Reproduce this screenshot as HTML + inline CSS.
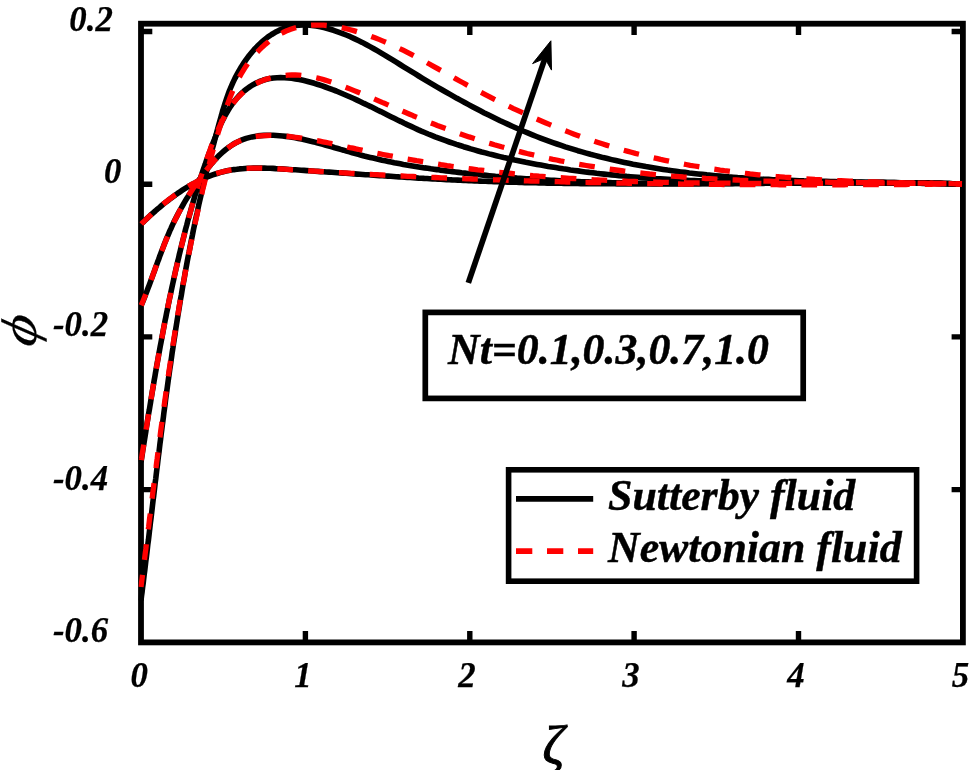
<!DOCTYPE html>
<html><head><meta charset="utf-8"><title>Concentration profile</title>
<style>
html,body{margin:0;padding:0;background:#fff;}
body{width:969px;height:770px;overflow:hidden;}
svg{display:block;}
text{font-family:"Liberation Serif",serif;font-style:italic;font-weight:bold;fill:#000;}
.tk{font-size:34.8px;}
.big{font-size:43.85px;}
.sym{font-weight:normal;}
.big{stroke:#000;stroke-width:0.45px;}
.tk{stroke:#000;stroke-width:0.25px;}
</style></head><body>
<svg width="969" height="770" viewBox="0 0 969 770">
<rect width="969" height="770" fill="#fff"/>
<g stroke="#000" stroke-width="5.8" fill="none" stroke-linecap="butt">
<rect x="141.0" y="23.7" width="821.9" height="618.7"/>
<path d="M305.4,642.4 v-11.3 M305.4,23.7 v11.3 M469.8,642.4 v-11.3 M469.8,23.7 v11.3 M634.1,642.4 v-11.3 M634.1,23.7 v11.3 M798.5,642.4 v-11.3 M798.5,23.7 v11.3 M141.0,31.5 h11.3 M962.9,31.5 h-11.3 M141.0,184.2 h11.3 M962.9,184.2 h-11.3 M141.0,336.9 h11.3 M962.9,336.9 h-11.3 M141.0,489.6 h11.3 M962.9,489.6 h-11.3 " stroke-width="5.4"/>
</g>
<defs><clipPath id="cp"><rect x="138.4" y="20.8" width="827.4" height="624.5"/></clipPath></defs>
<g fill="none" stroke="#000" stroke-width="5.6" stroke-linejoin="round" clip-path="url(#cp)">
<path d="M141.3,224.0 L143.2,222.1 L145.1,220.3 L147.1,218.4 L149.1,216.5 L151.1,214.7 L153.2,212.8 L155.3,211.0 L157.4,209.1 L159.6,207.3 L161.7,205.5 L163.9,203.7 L166.1,201.9 L168.4,200.2 L170.7,198.4 L173.0,196.7 L175.3,195.1 L177.6,193.4 L180.0,191.8 L182.4,190.2 L184.8,188.7 L187.3,187.2 L189.7,185.7 L192.2,184.3 L194.7,183.0 L197.2,181.6 L199.7,180.4 L202.3,179.2 L204.8,178.0 L207.4,176.9 L210.0,175.9 L212.6,174.9 L215.3,174.0 L217.9,173.2 L220.6,172.4 L223.2,171.7 L225.9,171.1 L228.6,170.5 L231.3,170.1 L234.0,169.6 L236.8,169.3 L239.5,168.9 L242.3,168.7 L245.0,168.5 L247.8,168.3 L250.6,168.2 L253.3,168.1 L256.1,168.1 L258.9,168.1 L261.7,168.1 L264.5,168.1 L267.3,168.2 L270.1,168.3 L272.9,168.4 L275.7,168.6 L278.6,168.7 L281.4,168.9 L284.2,169.1 L287.0,169.3 L289.8,169.5 L292.6,169.7 L295.4,169.8 L298.3,170.0 L301.1,170.2 L303.9,170.4 L306.7,170.6 L309.5,170.8 L312.3,171.0 L315.1,171.2 L317.9,171.4 L320.7,171.6 L323.5,171.8 L326.3,172.0 L329.1,172.1 L331.9,172.3 L334.7,172.5 L337.6,172.7 L340.4,172.9 L343.2,173.1 L346.0,173.3 L348.8,173.5 L351.5,173.7 L354.3,173.9 L357.1,174.1 L359.9,174.3 L362.7,174.5 L365.5,174.7 L368.3,174.8 L371.1,175.0 L373.9,175.2 L376.7,175.4 L379.5,175.6 L382.3,175.8 L385.1,176.0 L387.9,176.1 L390.7,176.3 L393.5,176.5 L396.3,176.7 L399.1,176.9 L401.8,177.0 L404.6,177.2 L407.4,177.4 L410.2,177.5 L413.0,177.7 L415.8,177.9 L418.6,178.1 L421.4,178.2 L424.2,178.4 L427.0,178.5 L429.8,178.7 L432.6,178.9 L435.3,179.0 L438.1,179.2 L440.9,179.3 L443.7,179.5 L446.5,179.6 L449.3,179.7 L452.1,179.9 L454.9,180.0 L457.7,180.1 L460.5,180.3 L463.3,180.4 L466.1,180.5 L468.8,180.7 L471.6,180.8 L474.4,180.9 L477.2,181.0 L480.0,181.1 L482.8,181.2 L485.6,181.3 L488.4,181.4 L491.2,181.5 L494.0,181.6 L496.8,181.7 L499.6,181.8 L502.4,181.9 L505.2,182.0 L508.0,182.1 L510.8,182.2 L513.6,182.3 L516.4,182.3 L519.2,182.4 L522.0,182.5 L524.8,182.6 L527.6,182.6 L530.4,182.7 L533.2,182.8 L536.0,182.8 L538.8,182.9 L541.6,183.0 L544.4,183.0 L547.2,183.1 L550.0,183.1 L552.8,183.2 L555.6,183.2 L558.4,183.3 L561.2,183.3 L564.0,183.4 L566.8,183.4 L569.6,183.4 L572.4,183.5 L575.2,183.5 L578.0,183.5 L580.8,183.6 L583.6,183.6 L586.4,183.6 L589.2,183.7 L592.0,183.7 L594.8,183.7 L597.6,183.7 L600.4,183.8 L603.2,183.8 L606.0,183.8 L608.8,183.8 L611.6,183.8 L614.4,183.8 L617.2,183.9 L620.0,183.9 L622.8,183.9 L625.6,183.9 L628.4,183.9 L631.3,183.9 L634.1,183.9 L636.9,183.9 L639.7,183.9 L642.5,183.9 L645.3,183.9 L648.1,183.9 L650.9,183.9 L653.7,183.9 L656.5,183.9 L659.3,183.9 L662.1,183.9 L664.9,183.9 L667.7,183.9 L670.5,183.9 L673.3,183.9 L676.1,183.9 L678.9,183.9 L681.8,183.8 L684.6,183.8 L687.4,183.8 L690.2,183.8 L693.0,183.8 L695.8,183.8 L698.6,183.8 L701.4,183.8 L704.2,183.7 L707.0,183.7 L709.8,183.7 L712.6,183.7 L715.4,183.7 L718.2,183.7 L721.0,183.6 L723.8,183.6 L726.7,183.6 L729.5,183.6 L732.3,183.6 L735.1,183.5 L737.9,183.5 L740.7,183.5 L743.5,183.5 L746.3,183.5 L749.1,183.5 L751.9,183.4 L754.7,183.4 L757.5,183.4 L760.3,183.4 L763.1,183.4 L765.9,183.3 L768.7,183.3 L771.5,183.3 L774.4,183.3 L777.2,183.3 L780.0,183.2 L782.8,183.2 L785.6,183.2 L788.4,183.2 L791.2,183.2 L794.0,183.2 L796.8,183.2 L799.6,183.1 L802.4,183.1 L805.2,183.1 L808.0,183.1 L810.8,183.1 L813.6,183.1 L816.4,183.1 L819.2,183.0 L822.0,183.0 L824.8,183.0 L827.6,183.0 L830.4,183.0 L833.2,183.0 L836.0,183.0 L838.9,183.0 L841.7,183.0 L844.5,183.0 L847.3,183.0 L850.1,183.0 L852.9,183.0 L855.7,183.0 L858.5,183.0 L861.3,183.0 L864.1,183.0 L866.9,183.0 L869.7,183.0 L872.5,183.0 L875.3,183.0 L878.1,183.0 L880.9,183.0 L883.7,183.0 L886.5,183.1 L889.3,183.1 L892.1,183.1 L894.9,183.1 L897.7,183.1 L900.5,183.1 L903.3,183.2 L906.1,183.2 L908.9,183.2 L911.7,183.2 L914.5,183.3 L917.3,183.3 L920.1,183.3 L922.9,183.4 L925.7,183.4 L928.5,183.4 L931.3,183.5 L934.0,183.5 L936.8,183.6 L939.6,183.6 L942.4,183.6 L945.2,183.7 L948.0,183.7 L950.8,183.8 L953.6,183.8 L956.4,183.9 L959.2,184.0 L962.0,184.0"/>
<path d="M141.2,305.4 L142.4,302.6 L143.6,299.7 L144.7,296.9 L145.8,294.0 L146.9,291.2 L148.0,288.3 L149.1,285.4 L150.2,282.5 L151.2,279.7 L152.3,276.8 L153.3,273.9 L154.4,271.0 L155.4,268.1 L156.5,265.2 L157.5,262.3 L158.6,259.5 L159.6,256.6 L160.7,253.7 L161.8,250.8 L162.9,248.0 L164.0,245.1 L165.1,242.3 L166.2,239.4 L167.4,236.6 L168.6,233.8 L169.8,230.9 L171.1,228.2 L172.3,225.4 L173.6,222.6 L175.0,219.8 L176.4,217.1 L177.8,214.4 L179.2,211.7 L180.7,209.0 L182.2,206.3 L183.7,203.6 L185.3,200.9 L186.9,198.3 L188.6,195.7 L190.2,193.1 L191.9,190.5 L193.6,187.9 L195.4,185.3 L197.2,182.7 L199.0,180.2 L200.8,177.7 L202.6,175.1 L204.5,172.6 L206.4,170.1 L208.4,167.6 L210.3,165.2 L212.3,162.8 L214.4,160.4 L216.5,158.2 L218.6,155.9 L220.9,153.8 L223.1,151.7 L225.5,149.8 L227.9,147.9 L230.3,146.2 L232.8,144.5 L235.4,143.0 L238.0,141.7 L240.7,140.4 L243.4,139.4 L246.2,138.4 L249.1,137.6 L252.0,136.9 L254.9,136.4 L257.9,135.9 L260.9,135.6 L263.9,135.4 L267.0,135.3 L270.1,135.2 L273.2,135.3 L276.4,135.5 L279.5,135.7 L282.7,136.0 L285.8,136.4 L289.0,136.8 L292.1,137.3 L295.3,137.8 L298.4,138.4 L301.6,139.1 L304.7,139.8 L307.8,140.5 L310.8,141.2 L313.9,141.9 L316.9,142.7 L319.9,143.5 L322.9,144.3 L325.9,145.2 L328.9,146.0 L331.8,146.8 L334.8,147.7 L337.7,148.5 L340.7,149.4 L343.6,150.2 L346.5,151.1 L349.5,151.9 L352.4,152.8 L355.4,153.6 L358.3,154.4 L361.3,155.2 L364.2,156.0 L367.2,156.7 L370.2,157.4 L373.2,158.1 L376.1,158.8 L379.1,159.5 L382.1,160.2 L385.2,160.8 L388.2,161.4 L391.2,162.1 L394.2,162.7 L397.3,163.2 L400.3,163.8 L403.3,164.4 L406.4,164.9 L409.4,165.4 L412.5,165.9 L415.5,166.4 L418.6,166.9 L421.7,167.4 L424.7,167.9 L427.8,168.3 L430.9,168.8 L433.9,169.2 L437.0,169.6 L440.1,170.1 L443.1,170.5 L446.2,170.9 L449.3,171.3 L452.4,171.6 L455.4,172.0 L458.5,172.4 L461.6,172.8 L464.7,173.1 L467.7,173.5 L470.8,173.8 L473.9,174.1 L477.0,174.5 L480.0,174.8 L483.1,175.1 L486.2,175.4 L489.3,175.7 L492.4,176.0 L495.4,176.3 L498.5,176.5 L501.6,176.8 L504.7,177.1 L507.8,177.3 L510.8,177.6 L513.9,177.8 L517.0,178.1 L520.1,178.3 L523.2,178.5 L526.2,178.7 L529.3,178.9 L532.4,179.1 L535.5,179.3 L538.6,179.5 L541.7,179.7 L544.7,179.9 L547.8,180.1 L550.9,180.3 L554.0,180.4 L557.1,180.6 L560.2,180.8 L563.3,180.9 L566.3,181.1 L569.4,181.2 L572.5,181.3 L575.6,181.5 L578.7,181.6 L581.8,181.7 L584.9,181.8 L588.0,181.9 L591.0,182.0 L594.1,182.2 L597.2,182.3 L600.3,182.3 L603.4,182.4 L606.5,182.5 L609.6,182.6 L612.7,182.7 L615.8,182.8 L618.8,182.8 L621.9,182.9 L625.0,183.0 L628.1,183.0 L631.2,183.1 L634.3,183.1 L637.4,183.2 L640.5,183.2 L643.6,183.3 L646.7,183.3 L649.7,183.3 L652.8,183.4 L655.9,183.4 L659.0,183.4 L662.1,183.5 L665.2,183.5 L668.3,183.5 L671.4,183.5 L674.5,183.5 L677.6,183.5 L680.7,183.5 L683.8,183.6 L686.9,183.6 L689.9,183.6 L693.0,183.6 L696.1,183.6 L699.2,183.6 L702.3,183.5 L705.4,183.5 L708.5,183.5 L711.6,183.5 L714.7,183.5 L717.8,183.5 L720.9,183.5 L724.0,183.5 L727.1,183.4 L730.2,183.4 L733.3,183.4 L736.3,183.4 L739.4,183.4 L742.5,183.3 L745.6,183.3 L748.7,183.3 L751.8,183.3 L754.9,183.2 L758.0,183.2 L761.1,183.2 L764.2,183.2 L767.3,183.1 L770.4,183.1 L773.5,183.1 L776.6,183.0 L779.7,183.0 L782.8,183.0 L785.8,183.0 L788.9,182.9 L792.0,182.9 L795.1,182.9 L798.2,182.8 L801.3,182.8 L804.4,182.8 L807.5,182.8 L810.6,182.7 L813.7,182.7 L816.8,182.7 L819.9,182.7 L823.0,182.7 L826.1,182.6 L829.2,182.6 L832.2,182.6 L835.3,182.6 L838.4,182.6 L841.5,182.6 L844.6,182.6 L847.7,182.5 L850.8,182.5 L853.9,182.5 L857.0,182.5 L860.1,182.5 L863.2,182.5 L866.3,182.5 L869.3,182.5 L872.4,182.5 L875.5,182.5 L878.6,182.6 L881.7,182.6 L884.8,182.6 L887.9,182.6 L891.0,182.6 L894.1,182.6 L897.2,182.7 L900.3,182.7 L903.3,182.7 L906.4,182.8 L909.5,182.8 L912.6,182.8 L915.7,182.9 L918.8,182.9 L921.9,183.0 L925.0,183.0 L928.1,183.1 L931.1,183.2 L934.2,183.2 L937.3,183.3 L940.4,183.4 L943.5,183.5 L946.6,183.5 L949.7,183.6 L952.7,183.7 L955.8,183.8 L958.9,183.9 L962.0,184.0"/>
<path d="M141.0,462.0 L141.6,458.3 L142.2,454.6 L142.7,450.9 L143.3,447.2 L143.9,443.5 L144.5,439.8 L145.1,436.1 L145.7,432.4 L146.2,428.7 L146.8,425.0 L147.4,421.3 L148.0,417.6 L148.6,413.8 L149.3,410.1 L149.9,406.4 L150.5,402.7 L151.1,398.9 L151.7,395.2 L152.3,391.5 L153.0,387.7 L153.6,384.0 L154.2,380.3 L154.9,376.5 L155.5,372.8 L156.2,369.1 L156.8,365.3 L157.5,361.6 L158.2,357.8 L158.8,354.1 L159.5,350.4 L160.2,346.6 L160.9,342.9 L161.6,339.2 L162.3,335.5 L163.0,331.7 L163.7,328.0 L164.4,324.3 L165.1,320.6 L165.9,316.8 L166.6,313.1 L167.4,309.4 L168.1,305.7 L168.9,302.0 L169.6,298.3 L170.4,294.6 L171.2,290.9 L172.0,287.2 L172.8,283.5 L173.6,279.8 L174.4,276.2 L175.2,272.5 L176.0,268.8 L176.9,265.2 L177.7,261.5 L178.6,257.8 L179.4,254.2 L180.3,250.6 L181.2,246.9 L182.1,243.3 L183.0,239.7 L183.9,236.1 L184.8,232.4 L185.7,228.8 L186.7,225.2 L187.6,221.6 L188.6,218.1 L189.6,214.5 L190.6,210.9 L191.6,207.3 L192.6,203.7 L193.7,200.1 L194.7,196.6 L195.8,193.0 L196.9,189.4 L198.0,185.8 L199.2,182.2 L200.3,178.7 L201.5,175.1 L202.7,171.5 L203.9,167.9 L205.2,164.3 L206.4,160.7 L207.7,157.1 L209.0,153.5 L210.4,149.9 L211.7,146.3 L213.1,142.7 L214.6,139.0 L216.0,135.4 L217.5,131.8 L219.0,128.2 L220.6,124.6 L222.3,121.1 L224.0,117.7 L225.8,114.3 L227.7,111.0 L229.7,107.8 L231.8,104.7 L234.0,101.7 L236.4,98.8 L238.8,96.0 L241.4,93.4 L244.1,91.0 L247.0,88.7 L250.0,86.6 L253.1,84.7 L256.2,83.0 L259.5,81.5 L262.9,80.3 L266.3,79.3 L269.8,78.6 L273.4,78.0 L277.0,77.7 L280.6,77.6 L284.3,77.7 L288.0,77.9 L291.7,78.3 L295.5,78.9 L299.3,79.5 L303.0,80.3 L306.8,81.2 L310.6,82.3 L314.3,83.3 L318.0,84.5 L321.7,85.7 L325.4,87.0 L329.0,88.3 L332.6,89.7 L336.2,91.0 L339.7,92.5 L343.2,94.0 L346.7,95.5 L350.2,97.0 L353.7,98.5 L357.1,100.1 L360.5,101.7 L363.9,103.4 L367.3,105.0 L370.7,106.6 L374.1,108.3 L377.4,110.0 L380.8,111.6 L384.2,113.3 L387.5,115.0 L390.9,116.7 L394.2,118.3 L397.6,120.0 L401.0,121.6 L404.3,123.3 L407.7,124.9 L411.1,126.4 L414.5,128.0 L417.9,129.6 L421.3,131.1 L424.7,132.5 L428.2,134.0 L431.7,135.4 L435.2,136.8 L438.7,138.1 L442.2,139.4 L445.7,140.7 L449.3,142.0 L452.8,143.2 L456.4,144.4 L460.0,145.5 L463.6,146.7 L467.2,147.8 L470.8,148.9 L474.4,149.9 L478.1,151.0 L481.7,152.0 L485.4,152.9 L489.0,153.9 L492.7,154.8 L496.4,155.7 L500.0,156.6 L503.7,157.5 L507.4,158.3 L511.1,159.2 L514.8,160.0 L518.5,160.7 L522.2,161.5 L525.9,162.3 L529.6,163.0 L533.3,163.7 L537.0,164.4 L540.8,165.1 L544.5,165.7 L548.2,166.4 L551.9,167.0 L555.6,167.6 L559.3,168.2 L563.1,168.8 L566.8,169.3 L570.5,169.9 L574.2,170.4 L578.0,170.9 L581.7,171.4 L585.4,171.9 L589.2,172.4 L592.9,172.8 L596.6,173.3 L600.4,173.7 L604.1,174.1 L607.9,174.5 L611.6,174.9 L615.4,175.3 L619.1,175.7 L622.9,176.0 L626.6,176.4 L630.4,176.7 L634.1,177.0 L637.9,177.3 L641.6,177.6 L645.4,177.9 L649.1,178.2 L652.9,178.4 L656.6,178.7 L660.4,178.9 L664.2,179.1 L667.9,179.3 L671.7,179.6 L675.4,179.8 L679.2,179.9 L683.0,180.1 L686.7,180.3 L690.5,180.5 L694.3,180.6 L698.0,180.8 L701.8,180.9 L705.6,181.0 L709.3,181.2 L713.1,181.3 L716.9,181.4 L720.6,181.5 L724.4,181.6 L728.2,181.7 L732.0,181.8 L735.7,181.9 L739.5,181.9 L743.3,182.0 L747.1,182.1 L750.8,182.1 L754.6,182.2 L758.4,182.2 L762.2,182.3 L765.9,182.3 L769.7,182.3 L773.5,182.4 L777.3,182.4 L781.0,182.4 L784.8,182.4 L788.6,182.5 L792.4,182.5 L796.2,182.5 L799.9,182.5 L803.7,182.5 L807.5,182.5 L811.3,182.5 L815.0,182.5 L818.8,182.5 L822.6,182.5 L826.4,182.5 L830.1,182.5 L833.9,182.5 L837.7,182.5 L841.5,182.5 L845.3,182.5 L849.0,182.5 L852.8,182.6 L856.6,182.6 L860.4,182.6 L864.1,182.6 L867.9,182.6 L871.7,182.6 L875.4,182.6 L879.2,182.6 L883.0,182.6 L886.8,182.7 L890.5,182.7 L894.3,182.7 L898.1,182.7 L901.8,182.8 L905.6,182.8 L909.4,182.9 L913.1,182.9 L916.9,183.0 L920.7,183.0 L924.4,183.1 L928.2,183.1 L931.9,183.2 L935.7,183.3 L939.5,183.4 L943.2,183.5 L947.0,183.6 L950.7,183.7 L954.5,183.8 L958.2,183.9 L962.0,184.0"/>
<path d="M141.0,600.5 L141.5,596.1 L142.1,591.8 L142.6,587.4 L143.2,583.1 L143.7,578.7 L144.2,574.4 L144.8,570.0 L145.3,565.6 L145.8,561.3 L146.4,556.9 L146.9,552.6 L147.4,548.2 L147.9,543.8 L148.5,539.5 L149.0,535.1 L149.5,530.7 L150.0,526.4 L150.5,522.0 L151.1,517.6 L151.6,513.3 L152.1,508.9 L152.6,504.5 L153.1,500.2 L153.7,495.8 L154.2,491.4 L154.7,487.1 L155.2,482.7 L155.8,478.3 L156.3,473.9 L156.8,469.6 L157.4,465.2 L157.9,460.8 L158.4,456.5 L159.0,452.1 L159.5,447.7 L160.0,443.4 L160.6,439.0 L161.1,434.6 L161.7,430.2 L162.2,425.9 L162.8,421.5 L163.4,417.1 L163.9,412.8 L164.5,408.4 L165.1,404.0 L165.6,399.7 L166.2,395.3 L166.8,391.0 L167.4,386.6 L168.0,382.2 L168.6,377.9 L169.2,373.5 L169.8,369.2 L170.5,364.8 L171.1,360.4 L171.7,356.1 L172.3,351.7 L173.0,347.4 L173.6,343.0 L174.3,338.7 L175.0,334.3 L175.6,330.0 L176.3,325.6 L177.0,321.3 L177.7,316.9 L178.4,312.6 L179.1,308.3 L179.8,303.9 L180.5,299.6 L181.3,295.3 L182.0,290.9 L182.7,286.6 L183.5,282.3 L184.3,277.9 L185.0,273.6 L185.8,269.3 L186.6,265.0 L187.4,260.6 L188.2,256.3 L189.1,252.0 L189.9,247.7 L190.7,243.4 L191.6,239.1 L192.5,234.8 L193.3,230.5 L194.2,226.2 L195.1,221.9 L196.0,217.6 L197.0,213.3 L197.9,209.0 L198.8,204.7 L199.8,200.4 L200.8,196.1 L201.7,191.9 L202.7,187.6 L203.7,183.3 L204.8,179.0 L205.8,174.8 L206.8,170.5 L207.9,166.2 L209.0,162.0 L210.1,157.7 L211.1,153.5 L212.2,149.2 L213.4,145.0 L214.5,140.8 L215.6,136.6 L216.7,132.4 L217.9,128.1 L219.0,124.0 L220.2,119.8 L221.4,115.6 L222.5,111.4 L223.8,107.3 L225.1,103.1 L226.5,99.0 L227.9,94.9 L229.4,90.8 L231.1,86.7 L232.9,82.6 L234.8,78.6 L236.9,74.6 L239.1,70.6 L241.4,66.7 L243.9,62.9 L246.5,59.1 L249.2,55.5 L252.1,52.0 L255.0,48.7 L258.1,45.5 L261.3,42.4 L264.6,39.6 L268.0,36.9 L271.6,34.5 L275.2,32.3 L278.9,30.4 L282.7,28.8 L286.6,27.4 L290.6,26.3 L294.7,25.5 L298.9,25.1 L303.1,24.9 L307.4,25.0 L311.8,25.4 L316.1,26.0 L320.5,26.8 L324.8,27.8 L329.2,29.0 L333.5,30.3 L337.8,31.8 L342.0,33.3 L346.2,35.0 L350.3,36.7 L354.3,38.6 L358.3,40.5 L362.2,42.4 L366.1,44.5 L370.0,46.6 L373.8,48.7 L377.6,50.9 L381.3,53.1 L385.1,55.3 L388.8,57.6 L392.6,59.9 L396.3,62.2 L400.0,64.5 L403.7,66.8 L407.5,69.1 L411.2,71.4 L415.0,73.7 L418.7,76.0 L422.5,78.3 L426.3,80.6 L430.1,82.8 L433.9,85.1 L437.7,87.3 L441.5,89.5 L445.4,91.7 L449.2,93.9 L453.1,96.1 L456.9,98.3 L460.8,100.4 L464.7,102.5 L468.6,104.6 L472.5,106.7 L476.4,108.8 L480.3,110.8 L484.3,112.9 L488.2,114.8 L492.2,116.8 L496.2,118.7 L500.2,120.7 L504.1,122.5 L508.2,124.4 L512.2,126.2 L516.2,128.0 L520.2,129.8 L524.3,131.5 L528.3,133.2 L532.4,134.9 L536.5,136.5 L540.6,138.1 L544.7,139.6 L548.8,141.1 L552.9,142.6 L557.0,144.0 L561.2,145.4 L565.3,146.8 L569.5,148.1 L573.7,149.4 L577.8,150.7 L582.0,151.9 L586.2,153.1 L590.4,154.3 L594.7,155.4 L598.9,156.5 L603.1,157.6 L607.4,158.6 L611.6,159.6 L615.9,160.6 L620.1,161.5 L624.4,162.4 L628.7,163.3 L633.0,164.2 L637.3,165.0 L641.6,165.8 L645.9,166.6 L650.2,167.3 L654.5,168.0 L658.9,168.7 L663.2,169.4 L667.5,170.1 L671.9,170.7 L676.2,171.3 L680.6,171.9 L684.9,172.4 L689.3,173.0 L693.7,173.5 L698.1,174.0 L702.4,174.4 L706.8,174.9 L711.2,175.3 L715.6,175.7 L720.0,176.1 L724.4,176.5 L728.8,176.9 L733.2,177.2 L737.6,177.6 L742.0,177.9 L746.4,178.2 L750.8,178.5 L755.3,178.7 L759.7,179.0 L764.1,179.2 L768.5,179.4 L772.9,179.7 L777.4,179.9 L781.8,180.1 L786.2,180.2 L790.6,180.4 L795.1,180.6 L799.5,180.7 L803.9,180.9 L808.4,181.0 L812.8,181.1 L817.2,181.2 L821.6,181.3 L826.1,181.4 L830.5,181.5 L834.9,181.6 L839.3,181.7 L843.8,181.8 L848.2,181.9 L852.6,181.9 L857.0,182.0 L861.4,182.1 L865.9,182.2 L870.3,182.2 L874.7,182.3 L879.1,182.3 L883.5,182.4 L887.9,182.5 L892.3,182.5 L896.7,182.6 L901.0,182.7 L905.4,182.7 L909.8,182.8 L914.2,182.9 L918.6,182.9 L922.9,183.0 L927.3,183.1 L931.6,183.2 L936.0,183.3 L940.3,183.4 L944.7,183.5 L949.0,183.6 L953.3,183.8 L957.7,183.9 L962.0,184.0"/>
</g>
<g fill="none" stroke="#ff0000" stroke-width="5.3" stroke-dasharray="15.7 15.15" stroke-linejoin="round" clip-path="url(#cp)">
<path d="M141.3,224.0 L143.2,222.1 L145.1,220.3 L147.1,218.4 L149.1,216.5 L151.1,214.6 L153.1,212.8 L155.2,210.9 L157.3,209.1 L159.5,207.2 L161.6,205.4 L163.8,203.6 L166.1,201.8 L168.3,200.0 L170.6,198.3 L172.9,196.6 L175.2,194.9 L177.6,193.2 L180.0,191.6 L182.4,190.0 L184.8,188.5 L187.2,187.0 L189.7,185.5 L192.2,184.1 L194.7,182.8 L197.2,181.4 L199.8,180.2 L202.3,179.0 L204.9,177.8 L207.5,176.7 L210.1,175.7 L212.7,174.7 L215.3,173.8 L218.0,173.0 L220.7,172.3 L223.3,171.6 L226.0,171.0 L228.7,170.4 L231.4,169.9 L234.1,169.5 L236.8,169.2 L239.6,168.9 L242.3,168.6 L245.1,168.4 L247.8,168.3 L250.6,168.2 L253.3,168.1 L256.1,168.1 L258.9,168.1 L261.7,168.1 L264.5,168.2 L267.3,168.3 L270.1,168.4 L272.9,168.6 L275.7,168.7 L278.5,168.9 L281.3,169.0 L284.1,169.2 L286.9,169.4 L289.7,169.6 L292.5,169.8 L295.3,170.0 L298.1,170.2 L300.9,170.3 L303.7,170.5 L306.5,170.7 L309.3,170.9 L312.1,171.0 L315.0,171.2 L317.8,171.4 L320.6,171.6 L323.4,171.7 L326.2,171.9 L329.0,172.1 L331.8,172.2 L334.6,172.4 L337.4,172.6 L340.2,172.7 L343.0,172.9 L345.8,173.0 L348.6,173.2 L351.4,173.4 L354.2,173.5 L357.0,173.7 L359.8,173.8 L362.6,174.0 L365.4,174.1 L368.2,174.3 L371.0,174.4 L373.8,174.6 L376.7,174.7 L379.5,174.9 L382.3,175.0 L385.1,175.2 L387.9,175.3 L390.7,175.4 L393.5,175.6 L396.3,175.7 L399.1,175.9 L401.9,176.0 L404.7,176.1 L407.5,176.3 L410.3,176.4 L413.1,176.5 L415.9,176.6 L418.7,176.8 L421.5,176.9 L424.3,177.0 L427.1,177.1 L429.9,177.3 L432.7,177.4 L435.5,177.5 L438.3,177.6 L441.1,177.8 L443.9,177.9 L446.7,178.0 L449.5,178.1 L452.3,178.2 L455.1,178.3 L457.9,178.4 L460.7,178.6 L463.5,178.7 L466.3,178.8 L469.1,178.9 L471.9,179.0 L474.7,179.1 L477.5,179.2 L480.3,179.3 L483.1,179.4 L485.9,179.5 L488.7,179.6 L491.5,179.7 L494.3,179.8 L497.1,179.9 L499.9,180.0 L502.7,180.1 L505.5,180.2 L508.3,180.3 L511.1,180.4 L513.9,180.4 L516.7,180.5 L519.5,180.6 L522.3,180.7 L525.1,180.8 L527.9,180.9 L530.7,181.0 L533.5,181.0 L536.3,181.1 L539.1,181.2 L541.9,181.3 L544.7,181.4 L547.4,181.4 L550.2,181.5 L553.0,181.6 L555.8,181.7 L558.6,181.7 L561.4,181.8 L564.2,181.9 L567.0,182.0 L569.8,182.0 L572.6,182.1 L575.4,182.2 L578.2,182.2 L581.0,182.3 L583.8,182.4 L586.6,182.4 L589.4,182.5 L592.2,182.5 L595.0,182.6 L597.8,182.7 L600.6,182.7 L603.4,182.8 L606.2,182.8 L609.0,182.9 L611.8,183.0 L614.6,183.0 L617.4,183.1 L620.2,183.1 L623.0,183.2 L625.8,183.2 L628.6,183.3 L631.4,183.3 L634.2,183.4 L637.0,183.4 L639.8,183.5 L642.6,183.5 L645.4,183.6 L648.2,183.6 L651.0,183.6 L653.8,183.7 L656.6,183.7 L659.4,183.8 L662.2,183.8 L665.0,183.8 L667.8,183.9 L670.5,183.9 L673.3,184.0 L676.1,184.0 L678.9,184.0 L681.7,184.1 L684.5,184.1 L687.3,184.1 L690.1,184.2 L692.9,184.2 L695.7,184.2 L698.5,184.2 L701.3,184.3 L704.1,184.3 L706.9,184.3 L709.7,184.4 L712.5,184.4 L715.3,184.4 L718.1,184.4 L720.9,184.4 L723.7,184.5 L726.5,184.5 L729.3,184.5 L732.1,184.5 L734.9,184.6 L737.7,184.6 L740.5,184.6 L743.3,184.6 L746.1,184.6 L748.9,184.6 L751.7,184.6 L754.5,184.7 L757.3,184.7 L760.1,184.7 L762.9,184.7 L765.7,184.7 L768.5,184.7 L771.3,184.7 L774.1,184.7 L776.9,184.7 L779.7,184.8 L782.5,184.8 L785.3,184.8 L788.1,184.8 L790.9,184.8 L793.7,184.8 L796.5,184.8 L799.3,184.8 L802.1,184.8 L804.9,184.8 L807.7,184.8 L810.5,184.8 L813.3,184.8 L816.1,184.8 L818.9,184.8 L821.7,184.8 L824.5,184.8 L827.3,184.8 L830.1,184.8 L832.9,184.8 L835.7,184.8 L838.5,184.8 L841.3,184.8 L844.1,184.8 L847.0,184.7 L849.8,184.7 L852.6,184.7 L855.4,184.7 L858.2,184.7 L861.0,184.7 L863.8,184.7 L866.6,184.7 L869.4,184.7 L872.2,184.7 L875.0,184.6 L877.8,184.6 L880.6,184.6 L883.4,184.6 L886.2,184.6 L889.0,184.6 L891.8,184.5 L894.6,184.5 L897.4,184.5 L900.2,184.5 L903.0,184.5 L905.8,184.5 L908.7,184.4 L911.5,184.4 L914.3,184.4 L917.1,184.4 L919.9,184.4 L922.7,184.3 L925.5,184.3 L928.3,184.3 L931.1,184.3 L933.9,184.2 L936.7,184.2 L939.5,184.2 L942.3,184.2 L945.2,184.1 L948.0,184.1 L950.8,184.1 L953.6,184.1 L956.4,184.0 L959.2,184.0 L962.0,184.0" stroke-dashoffset="1.4"/>
<path d="M141.2,305.4 L142.4,302.6 L143.5,299.7 L144.7,296.8 L145.8,294.0 L146.9,291.1 L148.0,288.2 L149.1,285.4 L150.1,282.5 L151.2,279.6 L152.3,276.7 L153.3,273.9 L154.4,271.0 L155.4,268.1 L156.4,265.2 L157.5,262.4 L158.6,259.5 L159.6,256.6 L160.7,253.8 L161.8,250.9 L162.9,248.1 L164.0,245.2 L165.1,242.4 L166.3,239.6 L167.4,236.7 L168.6,233.9 L169.9,231.1 L171.1,228.3 L172.4,225.5 L173.7,222.8 L175.0,220.0 L176.4,217.3 L177.8,214.5 L179.2,211.8 L180.7,209.1 L182.2,206.4 L183.7,203.7 L185.2,201.0 L186.8,198.4 L188.4,195.7 L190.1,193.1 L191.8,190.5 L193.5,187.9 L195.2,185.3 L197.0,182.7 L198.8,180.2 L200.6,177.7 L202.5,175.1 L204.4,172.6 L206.3,170.1 L208.3,167.7 L210.3,165.3 L212.3,162.9 L214.4,160.5 L216.5,158.3 L218.6,156.1 L220.8,153.9 L223.1,151.9 L225.4,149.9 L227.7,148.1 L230.1,146.3 L232.6,144.7 L235.1,143.2 L237.7,141.8 L240.4,140.6 L243.1,139.5 L246.0,138.6 L248.8,137.8 L251.7,137.1 L254.7,136.6 L257.7,136.2 L260.7,135.8 L263.8,135.6 L266.9,135.5 L270.1,135.4 L273.2,135.5 L276.4,135.6 L279.5,135.7 L282.7,136.0 L285.8,136.2 L289.0,136.5 L292.1,136.9 L295.3,137.3 L298.4,137.7 L301.5,138.1 L304.5,138.6 L307.6,139.1 L310.7,139.6 L313.7,140.1 L316.8,140.7 L319.8,141.2 L322.8,141.8 L325.9,142.4 L328.9,143.0 L331.9,143.7 L334.9,144.3 L337.9,145.0 L340.9,145.6 L343.9,146.3 L346.9,146.9 L349.9,147.6 L353.0,148.2 L356.0,148.9 L359.0,149.5 L362.0,150.1 L365.0,150.8 L368.0,151.4 L371.0,152.0 L374.1,152.7 L377.1,153.3 L380.1,153.9 L383.1,154.5 L386.2,155.1 L389.2,155.7 L392.2,156.2 L395.3,156.8 L398.3,157.4 L401.3,157.9 L404.4,158.5 L407.4,159.1 L410.5,159.6 L413.5,160.1 L416.5,160.7 L419.6,161.2 L422.6,161.7 L425.7,162.2 L428.7,162.7 L431.8,163.2 L434.8,163.7 L437.9,164.2 L441.0,164.7 L444.0,165.1 L447.1,165.6 L450.1,166.0 L453.2,166.5 L456.2,166.9 L459.3,167.3 L462.4,167.8 L465.4,168.2 L468.5,168.6 L471.5,169.0 L474.6,169.4 L477.7,169.8 L480.7,170.1 L483.8,170.5 L486.9,170.9 L489.9,171.2 L493.0,171.6 L496.1,171.9 L499.1,172.3 L502.2,172.6 L505.3,172.9 L508.3,173.2 L511.4,173.5 L514.5,173.9 L517.5,174.2 L520.6,174.4 L523.7,174.7 L526.8,175.0 L529.8,175.3 L532.9,175.6 L536.0,175.8 L539.1,176.1 L542.1,176.3 L545.2,176.6 L548.3,176.8 L551.4,177.0 L554.4,177.3 L557.5,177.5 L560.6,177.7 L563.7,177.9 L566.8,178.1 L569.8,178.3 L572.9,178.5 L576.0,178.7 L579.1,178.9 L582.2,179.1 L585.2,179.3 L588.3,179.4 L591.4,179.6 L594.5,179.8 L597.6,179.9 L600.7,180.1 L603.7,180.2 L606.8,180.4 L609.9,180.5 L613.0,180.6 L616.1,180.8 L619.2,180.9 L622.2,181.0 L625.3,181.1 L628.4,181.3 L631.5,181.4 L634.6,181.5 L637.7,181.6 L640.8,181.7 L643.9,181.8 L646.9,181.9 L650.0,182.0 L653.1,182.0 L656.2,182.1 L659.3,182.2 L662.4,182.3 L665.5,182.4 L668.6,182.4 L671.7,182.5 L674.8,182.6 L677.8,182.6 L680.9,182.7 L684.0,182.7 L687.1,182.8 L690.2,182.8 L693.3,182.9 L696.4,182.9 L699.5,183.0 L702.6,183.0 L705.7,183.0 L708.8,183.1 L711.9,183.1 L714.9,183.1 L718.0,183.2 L721.1,183.2 L724.2,183.2 L727.3,183.2 L730.4,183.2 L733.5,183.3 L736.6,183.3 L739.7,183.3 L742.8,183.3 L745.9,183.3 L749.0,183.3 L752.1,183.3 L755.1,183.3 L758.2,183.3 L761.3,183.3 L764.4,183.4 L767.5,183.4 L770.6,183.4 L773.7,183.4 L776.8,183.4 L779.9,183.4 L783.0,183.3 L786.1,183.3 L789.2,183.3 L792.3,183.3 L795.4,183.3 L798.4,183.3 L801.5,183.3 L804.6,183.3 L807.7,183.3 L810.8,183.3 L813.9,183.3 L817.0,183.3 L820.1,183.3 L823.2,183.3 L826.3,183.3 L829.4,183.3 L832.5,183.2 L835.5,183.2 L838.6,183.2 L841.7,183.2 L844.8,183.2 L847.9,183.2 L851.0,183.2 L854.1,183.2 L857.2,183.2 L860.3,183.2 L863.3,183.2 L866.4,183.2 L869.5,183.2 L872.6,183.2 L875.7,183.2 L878.8,183.2 L881.9,183.2 L885.0,183.2 L888.0,183.2 L891.1,183.2 L894.2,183.3 L897.3,183.3 L900.4,183.3 L903.5,183.3 L906.6,183.3 L909.6,183.3 L912.7,183.4 L915.8,183.4 L918.9,183.4 L922.0,183.4 L925.1,183.5 L928.1,183.5 L931.2,183.5 L934.3,183.6 L937.4,183.6 L940.5,183.6 L943.5,183.7 L946.6,183.7 L949.7,183.8 L952.8,183.8 L955.8,183.9 L958.9,183.9 L962.0,184.0" stroke-dashoffset="3.6"/>
<path d="M141.0,462.0 L141.6,458.3 L142.1,454.6 L142.7,451.0 L143.3,447.3 L143.9,443.6 L144.5,439.9 L145.1,436.2 L145.6,432.5 L146.2,428.8 L146.8,425.0 L147.4,421.3 L148.0,417.6 L148.6,413.9 L149.2,410.2 L149.8,406.5 L150.5,402.7 L151.1,399.0 L151.7,395.3 L152.3,391.5 L152.9,387.8 L153.6,384.1 L154.2,380.3 L154.9,376.6 L155.5,372.9 L156.2,369.1 L156.8,365.4 L157.5,361.7 L158.1,357.9 L158.8,354.2 L159.5,350.5 L160.2,346.7 L160.9,343.0 L161.6,339.3 L162.3,335.5 L163.0,331.8 L163.7,328.1 L164.4,324.4 L165.1,320.6 L165.8,316.9 L166.6,313.2 L167.3,309.5 L168.1,305.8 L168.8,302.1 L169.6,298.4 L170.4,294.7 L171.2,291.0 L172.0,287.3 L172.7,283.7 L173.6,280.0 L174.4,276.3 L175.2,272.6 L176.0,269.0 L176.9,265.3 L177.7,261.7 L178.6,258.0 L179.4,254.4 L180.3,250.8 L181.2,247.1 L182.1,243.5 L183.0,239.9 L183.9,236.3 L184.8,232.7 L185.7,229.1 L186.7,225.5 L187.6,221.9 L188.6,218.4 L189.6,214.8 L190.6,211.2 L191.6,207.6 L192.6,204.0 L193.6,200.5 L194.7,196.9 L195.8,193.3 L196.9,189.7 L198.0,186.1 L199.1,182.5 L200.2,178.9 L201.4,175.3 L202.6,171.7 L203.8,168.1 L205.0,164.4 L206.2,160.8 L207.5,157.1 L208.8,153.5 L210.1,149.8 L211.4,146.1 L212.8,142.4 L214.2,138.8 L215.7,135.2 L217.2,131.6 L218.8,128.0 L220.4,124.5 L222.1,121.1 L223.9,117.7 L225.7,114.4 L227.7,111.2 L229.7,108.1 L231.8,105.0 L234.0,102.1 L236.3,99.3 L238.8,96.6 L241.3,94.1 L244.0,91.7 L246.8,89.4 L249.7,87.3 L252.7,85.4 L255.9,83.6 L259.2,82.0 L262.5,80.6 L266.0,79.3 L269.5,78.2 L273.1,77.2 L276.8,76.4 L280.5,75.8 L284.2,75.4 L287.9,75.1 L291.7,74.9 L295.4,75.0 L299.2,75.1 L302.9,75.5 L306.6,75.9 L310.4,76.5 L314.1,77.3 L317.8,78.1 L321.5,79.0 L325.1,80.1 L328.8,81.2 L332.5,82.4 L336.1,83.6 L339.7,85.0 L343.3,86.3 L346.9,87.7 L350.5,89.1 L354.1,90.6 L357.6,92.0 L361.2,93.5 L364.7,94.9 L368.2,96.4 L371.7,97.9 L375.2,99.4 L378.6,100.9 L382.1,102.4 L385.6,103.8 L389.0,105.3 L392.5,106.8 L395.9,108.3 L399.3,109.8 L402.8,111.3 L406.2,112.7 L409.7,114.2 L413.1,115.7 L416.5,117.1 L420.0,118.5 L423.4,120.0 L426.9,121.4 L430.4,122.8 L433.8,124.1 L437.3,125.5 L440.8,126.8 L444.3,128.1 L447.8,129.4 L451.3,130.7 L454.9,132.0 L458.4,133.2 L462.0,134.5 L465.5,135.7 L469.1,136.9 L472.7,138.0 L476.3,139.2 L479.8,140.3 L483.4,141.5 L487.0,142.6 L490.7,143.6 L494.3,144.7 L497.9,145.7 L501.5,146.8 L505.2,147.8 L508.8,148.8 L512.5,149.7 L516.1,150.7 L519.8,151.6 L523.5,152.6 L527.1,153.5 L530.8,154.3 L534.5,155.2 L538.2,156.1 L541.8,156.9 L545.5,157.7 L549.2,158.5 L552.9,159.3 L556.6,160.0 L560.3,160.8 L564.0,161.5 L567.7,162.2 L571.4,162.9 L575.1,163.6 L578.8,164.3 L582.5,164.9 L586.2,165.5 L590.0,166.1 L593.7,166.7 L597.4,167.3 L601.1,167.9 L604.8,168.4 L608.6,169.0 L612.3,169.5 L616.0,170.0 L619.7,170.5 L623.5,171.0 L627.2,171.4 L630.9,171.9 L634.7,172.3 L638.4,172.8 L642.1,173.2 L645.9,173.6 L649.6,174.0 L653.4,174.3 L657.1,174.7 L660.9,175.1 L664.6,175.4 L668.3,175.7 L672.1,176.1 L675.8,176.4 L679.6,176.7 L683.3,177.0 L687.1,177.2 L690.9,177.5 L694.6,177.8 L698.4,178.0 L702.1,178.2 L705.9,178.5 L709.6,178.7 L713.4,178.9 L717.2,179.1 L720.9,179.3 L724.7,179.5 L728.4,179.7 L732.2,179.8 L736.0,180.0 L739.7,180.2 L743.5,180.3 L747.3,180.5 L751.0,180.6 L754.8,180.7 L758.6,180.8 L762.3,181.0 L766.1,181.1 L769.9,181.2 L773.7,181.3 L777.4,181.4 L781.2,181.5 L785.0,181.5 L788.7,181.6 L792.5,181.7 L796.3,181.8 L800.1,181.8 L803.8,181.9 L807.6,182.0 L811.4,182.0 L815.1,182.1 L818.9,182.1 L822.7,182.2 L826.5,182.2 L830.2,182.3 L834.0,182.3 L837.8,182.4 L841.6,182.4 L845.3,182.4 L849.1,182.5 L852.9,182.5 L856.6,182.5 L860.4,182.6 L864.2,182.6 L867.9,182.6 L871.7,182.7 L875.5,182.7 L879.3,182.7 L883.0,182.8 L886.8,182.8 L890.6,182.8 L894.3,182.9 L898.1,182.9 L901.9,183.0 L905.6,183.0 L909.4,183.0 L913.2,183.1 L916.9,183.1 L920.7,183.2 L924.4,183.2 L928.2,183.3 L932.0,183.4 L935.7,183.4 L939.5,183.5 L943.2,183.6 L947.0,183.7 L950.7,183.7 L954.5,183.8 L958.2,183.9 L962.0,184.0" stroke-dashoffset="-1.9"/>
<path d="M141.0,587.0 L141.5,582.7 L142.1,578.4 L142.6,574.2 L143.2,569.9 L143.7,565.6 L144.3,561.3 L144.8,557.0 L145.3,552.8 L145.9,548.5 L146.4,544.2 L147.0,539.9 L147.5,535.6 L148.0,531.3 L148.6,527.0 L149.1,522.7 L149.6,518.4 L150.2,514.1 L150.7,509.9 L151.2,505.6 L151.8,501.3 L152.3,497.0 L152.8,492.7 L153.4,488.4 L153.9,484.1 L154.5,479.8 L155.0,475.5 L155.5,471.2 L156.1,466.9 L156.6,462.6 L157.2,458.3 L157.7,454.0 L158.3,449.7 L158.9,445.4 L159.4,441.1 L160.0,436.8 L160.5,432.5 L161.1,428.2 L161.7,423.9 L162.2,419.6 L162.8,415.3 L163.4,411.0 L164.0,406.7 L164.6,402.4 L165.2,398.1 L165.8,393.8 L166.4,389.5 L167.0,385.2 L167.6,380.9 L168.2,376.6 L168.8,372.3 L169.5,368.0 L170.1,363.7 L170.7,359.4 L171.4,355.2 L172.0,350.9 L172.7,346.6 L173.4,342.3 L174.0,338.0 L174.7,333.8 L175.4,329.5 L176.1,325.2 L176.8,320.9 L177.5,316.7 L178.2,312.4 L178.9,308.1 L179.6,303.9 L180.4,299.6 L181.1,295.3 L181.9,291.1 L182.6,286.8 L183.4,282.6 L184.2,278.3 L185.0,274.1 L185.7,269.8 L186.5,265.6 L187.4,261.3 L188.2,257.1 L189.0,252.9 L189.9,248.6 L190.7,244.4 L191.6,240.2 L192.4,235.9 L193.3,231.7 L194.2,227.5 L195.1,223.3 L196.0,219.1 L197.0,214.9 L197.9,210.7 L198.8,206.5 L199.8,202.3 L200.8,198.1 L201.8,193.9 L202.7,189.7 L203.8,185.5 L204.8,181.3 L205.8,177.1 L206.9,173.0 L208.0,168.8 L209.1,164.6 L210.2,160.5 L211.3,156.3 L212.5,152.1 L213.6,148.0 L214.8,143.8 L216.0,139.6 L217.3,135.5 L218.6,131.3 L219.9,127.2 L221.2,123.0 L222.5,118.9 L223.9,114.7 L225.3,110.6 L226.8,106.4 L228.3,102.3 L229.8,98.2 L231.4,94.1 L233.1,90.1 L234.9,86.1 L236.8,82.1 L238.8,78.2 L240.9,74.4 L243.2,70.6 L245.5,66.9 L248.0,63.3 L250.7,59.8 L253.4,56.4 L256.3,53.1 L259.3,50.0 L262.4,46.9 L265.6,44.1 L268.9,41.4 L272.3,38.9 L275.8,36.5 L279.4,34.4 L283.1,32.5 L286.9,30.7 L290.7,29.3 L294.6,28.0 L298.6,27.0 L302.6,26.2 L306.7,25.6 L310.8,25.2 L315.0,25.1 L319.2,25.1 L323.5,25.2 L327.8,25.6 L332.0,26.1 L336.4,26.7 L340.7,27.5 L345.0,28.4 L349.3,29.5 L353.6,30.6 L357.9,31.9 L362.2,33.2 L366.5,34.7 L370.7,36.2 L374.9,37.8 L379.0,39.4 L383.1,41.1 L387.2,42.8 L391.2,44.6 L395.2,46.4 L399.1,48.3 L403.1,50.2 L406.9,52.1 L410.8,54.1 L414.6,56.1 L418.4,58.1 L422.2,60.1 L426.0,62.2 L429.8,64.3 L433.5,66.3 L437.2,68.4 L441.0,70.5 L444.7,72.6 L448.5,74.7 L452.2,76.8 L455.9,78.9 L459.7,81.0 L463.5,83.0 L467.2,85.1 L471.0,87.1 L474.8,89.2 L478.6,91.2 L482.5,93.2 L486.3,95.1 L490.2,97.1 L494.0,99.1 L497.9,101.0 L501.8,102.9 L505.7,104.8 L509.6,106.7 L513.5,108.6 L517.5,110.4 L521.4,112.2 L525.4,114.0 L529.3,115.8 L533.3,117.6 L537.3,119.3 L541.3,121.0 L545.3,122.7 L549.3,124.4 L553.3,126.1 L557.3,127.7 L561.4,129.3 L565.4,130.8 L569.5,132.4 L573.5,133.9 L577.6,135.4 L581.7,136.9 L585.8,138.3 L589.9,139.7 L594.0,141.1 L598.1,142.5 L602.2,143.8 L606.3,145.1 L610.5,146.4 L614.6,147.6 L618.8,148.8 L622.9,150.0 L627.1,151.1 L631.3,152.3 L635.4,153.4 L639.6,154.4 L643.8,155.5 L648.0,156.5 L652.2,157.5 L656.4,158.4 L660.6,159.4 L664.8,160.3 L669.1,161.2 L673.3,162.0 L677.5,162.9 L681.8,163.7 L686.0,164.5 L690.2,165.3 L694.5,166.0 L698.8,166.7 L703.0,167.4 L707.3,168.1 L711.5,168.8 L715.8,169.4 L720.1,170.1 L724.4,170.7 L728.7,171.2 L733.0,171.8 L737.2,172.3 L741.5,172.9 L745.8,173.4 L750.1,173.9 L754.4,174.3 L758.7,174.8 L763.1,175.2 L767.4,175.7 L771.7,176.1 L776.0,176.5 L780.3,176.8 L784.6,177.2 L789.0,177.5 L793.3,177.9 L797.6,178.2 L801.9,178.5 L806.3,178.8 L810.6,179.1 L814.9,179.4 L819.3,179.6 L823.6,179.9 L827.9,180.1 L832.3,180.3 L836.6,180.5 L840.9,180.7 L845.3,180.9 L849.6,181.1 L853.9,181.3 L858.3,181.4 L862.6,181.6 L867.0,181.8 L871.3,181.9 L875.6,182.0 L880.0,182.2 L884.3,182.3 L888.6,182.4 L893.0,182.5 L897.3,182.6 L901.6,182.7 L905.9,182.8 L910.3,182.9 L914.6,183.0 L918.9,183.1 L923.2,183.2 L927.5,183.2 L931.9,183.3 L936.2,183.4 L940.5,183.5 L944.8,183.5 L949.1,183.6 L953.4,183.7 L957.7,183.7 L962.0,183.8" stroke-dashoffset="3.5"/>
</g>
<path d="M468.3,282.9 L545.1,57.8" stroke="#000" stroke-width="5.7" fill="none"/>
<path d="M550.9,40.8 L532.6,63.6 L544.9,58.3 L551.5,70.1 Z" fill="#000" stroke="#000" stroke-width="1" stroke-linejoin="miter"/>
<rect x="425.3" y="312.4" width="377.9" height="86.0" fill="#fff" stroke="#000" stroke-width="5.7"/>
<text class="big" x="448" y="364.2" textLength="321" lengthAdjust="spacingAndGlyphs">Nt=0.1,0.3,0.7,1.0</text>
<rect x="508.6" y="469.8" width="408.0" height="111.4" fill="#fff" stroke="#000" stroke-width="5.6"/>
<path d="M516,498.95 H593.2" stroke="#000" stroke-width="5.7"/>
<path d="M516,551.2 H593.2" stroke="#ff0000" stroke-width="5.7" stroke-dasharray="16.3 14.7"/>
<text class="big" x="608" y="510.1">Sutterby fluid</text>
<text class="big" x="608" y="562">Newtonian fluid</text>
<text class="tk" x="69.3" y="31.4">0.2</text>
<text class="tk" x="104" y="183.4">0</text>
<text class="tk" x="53" y="336.4">-0.2</text>
<text class="tk" x="53" y="489.8">-0.4</text>
<text class="tk" x="53" y="642.4">-0.6</text>
<text class="tk" x="130.5" y="687.3">0</text>
<text class="tk" x="294.3" y="687.3">1</text>
<text class="tk" x="458.3" y="687.3">2</text>
<text class="tk" x="622.2" y="687.3">3</text>
<text class="tk" x="787.3" y="687.3">4</text>
<text class="tk" x="951.8" y="687.3">5</text>
<text class="sym" font-size="54" stroke="#000" stroke-width="1" x="542.5" y="763.5">ζ</text>
<text class="sym" font-size="50" stroke="#000" stroke-width="0.25" transform="translate(35.5,348.5) rotate(-90) skewX(-13) scale(1.19,1)">ϕ</text>
</svg>
</body></html>
